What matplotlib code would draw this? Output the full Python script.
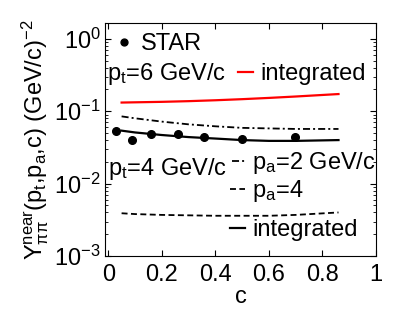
import numpy as np
import matplotlib
matplotlib.use("Agg")
import matplotlib.pyplot as plt
from matplotlib.legend import Legend
from matplotlib.ticker import FixedLocator, FixedFormatter, LogLocator

plt.rcParams["font.family"] = ["Liberation Sans", "DejaVu Sans"]
plt.rcParams["mathtext.fontset"] = "custom"
plt.rcParams["mathtext.rm"] = "Liberation Sans"
plt.rcParams["mathtext.it"] = "Liberation Sans:italic"
plt.rcParams["mathtext.default"] = "regular"
plt.rcParams["font.size"] = 17

# model curves, centrality grid
c_grid = [0.05, 0.1, 0.2, 0.3, 0.4, 0.5, 0.6, 0.7, 0.86]
y_pt6_integrated = [0.132, 0.133, 0.135, 0.138, 0.142, 0.147, 0.153, 0.160, 0.173]
y_pt4_pa2 = [0.085, 0.080, 0.072, 0.066, 0.062, 0.059, 0.058, 0.057, 0.057]
y_pt4_pa4 = [0.0039, 0.0038, 0.0037, 0.00365, 0.0036, 0.0036, 0.0036, 0.0037, 0.0040]
y_pt4_integrated = [0.054, 0.051, 0.047, 0.044, 0.042, 0.040, 0.039, 0.039, 0.040]

# STAR data
c_star = [0.03, 0.087, 0.16, 0.26, 0.358, 0.50, 0.696]
y_star = [0.054, 0.040, 0.049, 0.049, 0.044, 0.041, 0.044]

xticks = [0, 0.2, 0.4, 0.6, 0.8, 1]
xtick_labels = ["0", "0.2", "0.4", "0.6", "0.8", "1"]

fig = plt.figure(figsize=(4.15, 3.13), dpi=100)
ax = fig.add_axes([0.253, 0.182, 0.653, 0.744])

l_red, = ax.plot(c_grid, y_pt6_integrated, color="red", lw=1.6)
l_dd, = ax.plot(c_grid, y_pt4_pa2, color="black", lw=1.3, ls=(0, (3.9, 1.7, 1.1, 1.7)))
l_da, = ax.plot(c_grid, y_pt4_pa4, color="black", lw=1.3, ls=(0, (3.3, 1.9)))
l_int, = ax.plot(c_grid, y_pt4_integrated, color="black", lw=1.6)
l_star, = ax.plot(c_star, y_star, "o", color="black", ms=5.5, ls="none")

ax.set_yscale("log")
ax.set_xlim(-0.012, 1.0)
ax.set_ylim(1e-3, 1.65)
ax.xaxis.set_major_locator(FixedLocator(xticks))
ax.xaxis.set_major_formatter(FixedFormatter(xtick_labels))
ax.yaxis.set_major_locator(LogLocator(base=10, numticks=10))
ax.yaxis.set_minor_locator(LogLocator(base=10, subs=np.arange(2, 10), numticks=10))
ax.tick_params(which="both", direction="in", top=True, right=True)
ax.tick_params(which="major", length=4, width=0.8)
ax.tick_params(which="minor", length=2, width=0.6)
ax.tick_params(axis="x", pad=6)
ax.tick_params(axis="y", pad=3)

ax.set_xlabel("c", labelpad=0)
ax.set_ylabel(r"Y$^{\mathrm{near}}_{\pi\pi}$(p$_\mathrm{t}$,p$_\mathrm{a}$,c) (GeV/c)$^{-2}$",
              labelpad=2)

ax.text(0.007, 0.755, r"p$_\mathrm{t}$=6 GeV/c", transform=ax.transAxes, va="baseline")
ax.text(0.01, 0.348, r"p$_\mathrm{t}$=4 GeV/c", transform=ax.transAxes, va="baseline")

def key(handle, label, x, y, hl=0.65):
    leg = Legend(ax, [handle], [label], loc="center left", bbox_to_anchor=(x, y),
                 frameon=False, handlelength=hl, handletextpad=0.3,
                 borderpad=0, borderaxespad=0, numpoints=1, markerscale=0.9)
    ax.add_artist(leg)

key(l_star, "STAR", 0.035, 0.91, hl=0.8)
key(l_red, "integrated", 0.49, 0.78)
key(l_dd, r"p$_\mathrm{a}$=2 GeV/c", 0.47, 0.40, hl=0.55)
key(l_da, r"p$_\mathrm{a}$=4", 0.46, 0.28)
key(l_int, "integrated", 0.46, 0.11)

fig.savefig("out.png", dpi=100)
